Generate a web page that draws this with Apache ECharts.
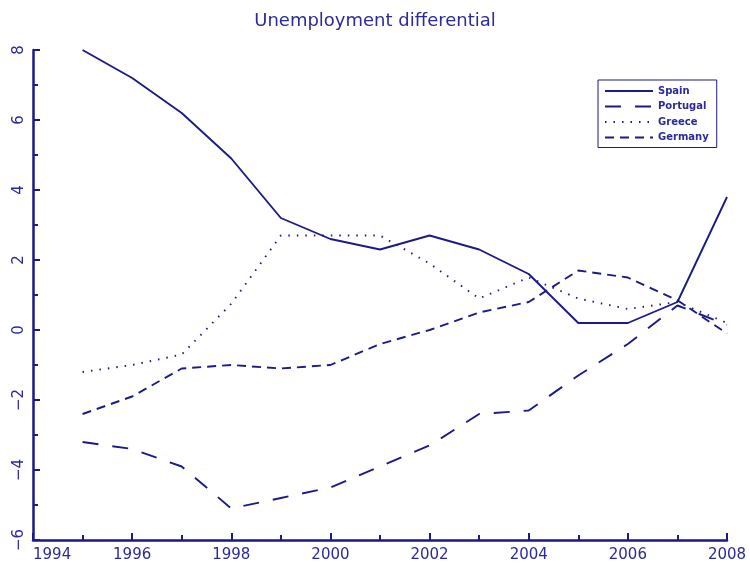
<!DOCTYPE html>
<html>
<head>
<meta charset="utf-8">
<script src="https://cdn.jsdelivr.net/npm/echarts@6/dist/echarts.min.js"></script>
<style>
  html, body { margin: 0; padding: 0; background: #fff; }
  #chart { width: 750px; height: 569px; }
</style>
</head>
<body>
<div id="chart"></div>
<script>
const years = [1995, 1996, 1997, 1998, 1999, 2000, 2001, 2002, 2003, 2004, 2005, 2006, 2007, 2008]
const spain = [8.0, 7.2, 6.2, 4.9, 3.2, 2.6, 2.3, 2.7, 2.3, 1.6, 0.2, 0.2, 0.8, 3.8]
const portugal = [-3.2, -3.4, -3.9, -5.1, -4.8, -4.5, -3.9, -3.3, -2.4, -2.3, -1.3, -0.4, 0.7, 0.15]
const greece = [-1.2, -1.0, -0.7, 0.75, 2.7, 2.7, 2.7, 1.9, 0.9, 1.5, 0.9, 0.6, 0.8, 0.2]
const germany = [-2.4, -1.9, -1.1, -1.0, -1.1, -1.0, -0.4, 0.0, 0.5, 0.8, 1.7, 1.5, 0.85, -0.1]

const navy = '#1a1a88'
const textNavy = '#2a2a9c'

const pair = (vals) => years.map((y, i) => [y, vals[i]])

function lineSeries(name, vals, dash) {
  return {
    name,
    type: 'line',
    data: pair(vals),
    symbol: 'none',
    lineStyle: { color: navy, width: 1.9, type: dash },
    itemStyle: { color: navy },
  }
}

const chart = echarts.init(document.getElementById('chart'))
chart.setOption({
  animation: false,
  title: {
    text: 'Unemployment differential',
    left: 'center',
    top: 7,
    textStyle: { color: textNavy, fontSize: 18, fontWeight: 'normal', fontFamily: 'DejaVu Sans' },
  },
  grid: { left: 33, right: 23, top: 50, bottom: 29 },
  legend: {
    orient: 'vertical',
    left: 598,
    top: 80,
    width: 120,
    padding: [6, 8, 5, 6],
    itemWidth: 48,
    itemHeight: 10,
    itemGap: 5.5,
    borderColor: navy,
    borderWidth: 1,
    itemStyle: { opacity: 0 },
    textStyle: { color: textNavy, fontSize: 10, fontWeight: 'bold', fontFamily: 'DejaVu Sans' },
    data: ['Spain', 'Portugal', 'Greece', 'Germany'],
  },
  xAxis: {
    type: 'value',
    min: 1994,
    max: 2008,
    interval: 2,
    axisLine: { onZero: false, lineStyle: { color: navy, width: 2.5 } },
    axisTick: { inside: true, length: 7, lineStyle: { color: navy, width: 2 } },
    minorTick: { show: true, splitNumber: 2, length: 5, lineStyle: { color: navy, width: 2 } },
    splitLine: { show: false },
    axisLabel: {
      color: textNavy,
      fontSize: 15,
      fontFamily: 'DejaVu Sans',
      margin: 8,
      alignMinLabel: 'left',
      formatter: (v) => String(v),
    },
  },
  yAxis: {
    type: 'value',
    min: -6,
    max: 8,
    interval: 2,
    axisLine: { show: true, onZero: false, lineStyle: { color: navy, width: 2.5 } },
    axisTick: { show: true, inside: true, length: 7, lineStyle: { color: navy, width: 2 } },
    minorTick: { show: true, splitNumber: 2, length: 5, lineStyle: { color: navy, width: 2 } },
    splitLine: { show: false },
    axisLabel: {
      color: textNavy,
      fontSize: 15,
      fontFamily: 'DejaVu Sans',
      rotate: 90,
      margin: 6,
      formatter: (v) => String(v).replace('-', '\u2212'),
    },
  },
  series: [
    lineSeries('Spain', spain, 'solid'),
    lineSeries('Portugal', portugal, [16, 14]),
    lineSeries('Greece', greece, [1.5, 7]),
    lineSeries('Germany', germany, [9, 6]),
  ],
})
</script>
</body>
</html>
